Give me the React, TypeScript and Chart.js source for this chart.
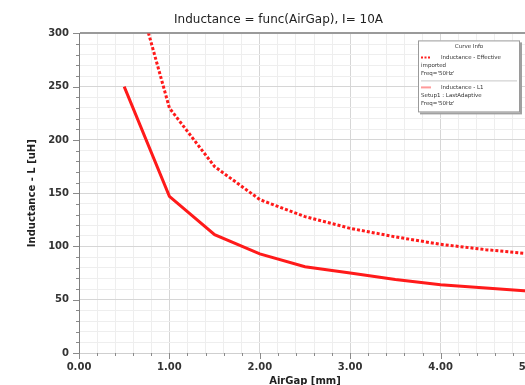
import React, { useEffect, useRef } from 'react';
import { Chart, registerables } from 'chart.js';

Chart.register(...registerables);

const airGap = [0.5, 1, 1.5, 2, 2.5, 3, 3.5, 4, 4.5, 5];
const inductanceImported = [382, 230, 175, 144, 128, 117, 109, 102, 97, 93];
const inductanceSimulated = [250, 147, 111, 93, 81, 75, 69, 64, 61, 58];

const chartTitle = 'Inductance = func(AirGap), I= 10A';
const xTitle = 'AirGap [mm]';
const yTitle = 'Inductance - L [uH]';
const legendTitle = 'Curve Info';
const importedLabel = ['Inductance - Effective', 'imported', "Freq='50Hz'"];
const simulatedLabel = ['Inductance - L1', 'Setup1 : LastAdaptive', "Freq='50Hz'"];

const xMin = 0;
const xMax = 5;
const xMinorStep = 0.2;
const yMin = 0;
const yMax = 300;
const yMinorStep = 10;
const yMajorStep = 50;

const FONT = "'DejaVu Sans', Verdana, sans-serif";

const isInt = (v: number) => Math.abs(v - Math.round(v)) < 1e-6;
const isYMajor = (v: number) => Math.abs(v / yMajorStep - Math.round(v / yMajorStep)) < 1e-6;

const tickMarks = {
  id: 'tickMarks',
  afterDraw(chart: any) {
    const ctx = chart.ctx;
    const xs = chart.scales.x;
    const ys = chart.scales.y;
    const { left, bottom } = chart.chartArea;
    ctx.save();
    ctx.strokeStyle = '#8a8a8a';
    ctx.lineWidth = 1;
    ctx.beginPath();
    ys.ticks.forEach((t: any) => {
      const y = Math.round(ys.getPixelForValue(t.value)) + 0.5;
      const len = isYMajor(t.value) ? 6 : 3;
      ctx.moveTo(left - len, y);
      ctx.lineTo(left, y);
    });
    xs.ticks.forEach((t: any) => {
      const x = Math.round(xs.getPixelForValue(t.value)) + 0.5;
      const len = isInt(t.value) ? 6 : 3;
      ctx.moveTo(x, bottom);
      ctx.lineTo(x, bottom + len);
    });
    ctx.stroke();
    ctx.restore();
  },
};

const curveLegend = {
  id: 'curveLegend',
  afterDraw(chart: any) {
    const ctx = chart.ctx;
    const { right, top } = chart.chartArea;
    const x0 = right - 113;
    const y0 = top + 7;
    const w = 102;
    const h = 72;
    ctx.save();
    ctx.fillStyle = '#a0a0a0';
    ctx.fillRect(x0 + 2, y0 + 2, w, h);
    ctx.fillStyle = '#ffffff';
    ctx.fillRect(x0, y0, w, h);
    ctx.strokeStyle = '#9a9a9a';
    ctx.lineWidth = 1;
    ctx.strokeRect(x0 + 0.5, y0 + 0.5, w - 1, h - 1);

    ctx.fillStyle = '#333333';
    ctx.font = `5.5px ${FONT}`;
    ctx.textBaseline = 'middle';
    ctx.textAlign = 'center';
    ctx.fillText(legendTitle, x0 + w / 2, y0 + 6);

    const ds = chart.data.datasets;
    const entries = [
      { lines: ds[0].legendLines, color: '#ff2020', dash: [2, 1.5], y: y0 + 17 },
      { lines: ds[1].legendLines, color: '#ff9a9a', dash: [], y: y0 + 47 },
    ];
    entries.forEach((e) => {
      ctx.strokeStyle = e.color;
      ctx.lineWidth = 2;
      ctx.setLineDash(e.dash);
      ctx.beginPath();
      ctx.moveTo(x0 + 3, e.y);
      ctx.lineTo(x0 + 13, e.y);
      ctx.stroke();
      ctx.setLineDash([]);
      ctx.fillStyle = '#333333';
      ctx.textAlign = 'left';
      ctx.fillText(e.lines[0], x0 + 23, e.y);
      ctx.fillText(e.lines[1], x0 + 3, e.y + 8);
      ctx.fillText(e.lines[2], x0 + 3, e.y + 16);
    });
    ctx.strokeStyle = '#c8c8c8';
    ctx.lineWidth = 1;
    ctx.beginPath();
    ctx.moveTo(x0 + 3, y0 + 40.5);
    ctx.lineTo(x0 + w - 3, y0 + 40.5);
    ctx.stroke();
    ctx.restore();
  },
};

export default function App() {
  const ref = useRef<HTMLCanvasElement>(null);

  useEffect(() => {
    if (!ref.current) return;
    const chart = new Chart(ref.current, {
      type: 'line',
      data: {
        datasets: [
          {
            label: importedLabel.join(' '),
            legendLines: importedLabel,
            data: airGap.map((x, i) => ({ x, y: inductanceImported[i] })),
            borderColor: '#ff1a1a',
            borderWidth: 3,
            borderDash: [3, 2],
            pointRadius: 0,
            tension: 0,
            fill: false,
          } as any,
          {
            label: simulatedLabel.join(' '),
            legendLines: simulatedLabel,
            data: airGap.map((x, i) => ({ x, y: inductanceSimulated[i] })),
            borderColor: '#ff1a1a',
            borderWidth: 3,
            pointRadius: 0,
            tension: 0,
            fill: false,
          } as any,
        ],
      },
      options: {
        animation: false,
        responsive: false,
        devicePixelRatio: 1,
        layout: { padding: { left: 26, right: 35, top: 0, bottom: 0 } },
        plugins: {
          legend: { display: false },
          tooltip: { enabled: false },
          title: {
            display: true,
            text: chartTitle,
            color: '#222222',
            font: { family: FONT, size: 12, weight: 'normal' },
            padding: { top: 13, bottom: 6 },
          },
        },
        scales: {
          x: {
            type: 'linear',
            min: xMin,
            max: xMax,
            afterFit: (s: any) => {
              s.height = 39;
            },
            ticks: {
              stepSize: xMinorStep,
              autoSkip: false,
              maxRotation: 0,
              padding: 8,
              color: '#333333',
              font: { family: FONT, size: 10, weight: 'bold' },
              callback: (v: any) => (isInt(Number(v)) ? Number(v).toFixed(2) : ''),
            },
            grid: {
              drawTicks: false,
              color: (c: any) => (isInt(c.tick.value) ? '#d6d6d6' : '#eeeeee'),
              lineWidth: 1,
            },
            border: { color: '#cfcfcf', width: 1 },
            title: {
              display: true,
              text: xTitle,
              color: '#222222',
              font: { family: FONT, size: 10, weight: 'bold' },
              padding: { top: 0, bottom: 5 },
            },
          },
          y: {
            type: 'linear',
            min: yMin,
            max: yMax,
            afterFit: (s: any) => {
              s.width = 53;
            },
            ticks: {
              stepSize: yMinorStep,
              autoSkip: false,
              padding: 10,
              color: '#333333',
              font: { family: FONT, size: 10, weight: 'bold' },
              callback: (v: any) => (isYMajor(Number(v)) ? String(v) : ''),
            },
            grid: {
              drawTicks: false,
              color: (c: any) =>
                c.tick.value === yMax ? '#9a9a9a' : isYMajor(c.tick.value) ? '#d6d6d6' : '#eeeeee',
              lineWidth: (c: any) => (c.tick.value === yMax ? 2 : 1),
            },
            border: { color: '#7f7f7f', width: 1 },
            title: {
              display: true,
              text: yTitle,
              color: '#222222',
              font: { family: FONT, size: 10, weight: 'bold' },
              padding: { top: 0, bottom: 8 },
            },
          },
        },
      },
      plugins: [tickMarks, curveLegend],
    } as any);
    return () => chart.destroy();
  }, []);

  return (
    <div
      style={{
        position: 'fixed',
        left: 0,
        top: 0,
        width: 525,
        height: 385,
        overflow: 'hidden',
        background: '#ffffff',
      }}
    >
      <canvas ref={ref} width={566} height={392} style={{ display: 'block' }} />
    </div>
  );
}
